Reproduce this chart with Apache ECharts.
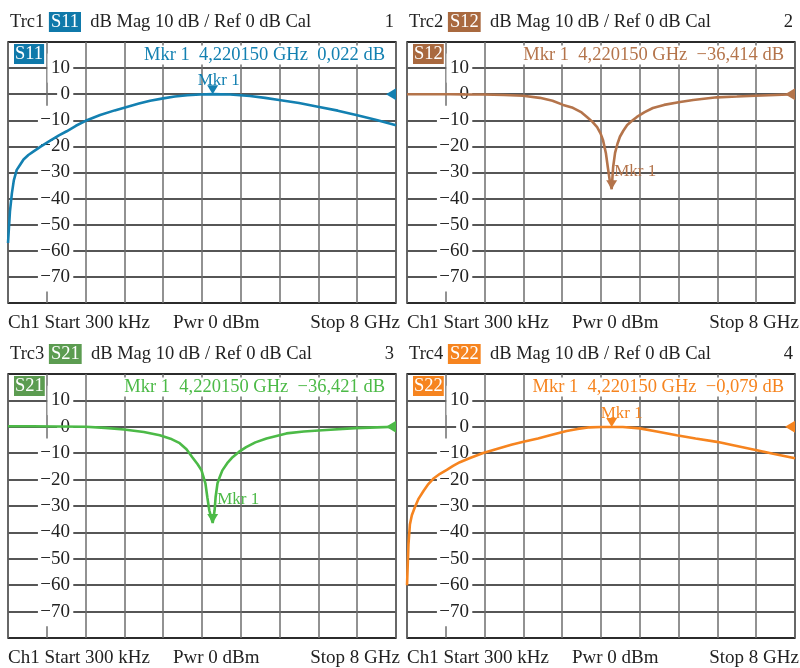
<!DOCTYPE html>
<html>
<head>
<meta charset="utf-8">
<script src="https://cdn.jsdelivr.net/npm/echarts@6/dist/echarts.min.js"></script>
<style>html,body{margin:0;padding:0;background:#fff}#c{width:800px;height:668px}</style>
</head>
<body>
<div id="c"></div>
<script>
// ---- data (frequency in GHz, magnitude in dB) ----
const freqS11 = [0.0003, 0.04, 0.08, 0.12, 0.18, 0.25, 0.32, 0.42, 0.52, 0.68, 0.87, 1.05, 1.21, 1.40, 1.60, 1.90, 2.20, 2.45, 2.70, 2.93, 3.20, 3.44, 3.70, 3.96, 4.22015, 4.58, 4.99, 5.30, 5.59, 6.00, 6.39, 6.80, 7.18, 7.60, 8.0];
const magS11  = [-57, -45, -38, -33, -29, -27, -25, -23.3, -22, -20, -17.8, -15.8, -14.2, -12.1, -10.2, -8.0, -6.2, -4.9, -3.6, -2.5, -1.6, -0.9, -0.4, -0.1, 0.022, -0.1, -0.7, -1.4, -2.2, -3.4, -4.8, -6.3, -8, -9.9, -11.9];

const freqS12 = [0.0003, 0.5, 0.89, 1.2, 1.57, 2.0, 2.39, 2.74, 3.0, 3.22, 3.42, 3.60, 3.71, 3.82, 3.92, 3.99, 4.04, 4.10, 4.14, 4.18, 4.22015, 4.25, 4.29, 4.34, 4.39, 4.46, 4.54, 4.64, 4.74, 4.90, 5.07, 5.30, 5.63, 5.90, 6.39, 6.80, 7.18, 7.60, 8.0];
const magS12  = [0, 0, 0, -0.05, -0.1, -0.3, -0.6, -1.4, -2.5, -4.1, -5.2, -7.0, -8.7, -10.5, -12.6, -15, -17.5, -22.5, -27.9, -33, -36.414, -28, -22.5, -19, -16.3, -14, -11.8, -10.2, -8.7, -6.9, -5.3, -4.1, -3.0, -2.2, -1.2, -0.9, -0.6, -0.3, 0];

const freqS21 = [0.0003, 0.5, 1.0, 1.6, 2.0, 2.39, 2.80, 3.13, 3.35, 3.54, 3.68, 3.80, 3.91, 3.99, 4.07, 4.11, 4.15, 4.22015, 4.26, 4.28, 4.32, 4.37, 4.42, 4.52, 4.63, 4.76, 4.91, 5.10, 5.33, 5.74, 6.10, 6.48, 7.16, 7.60, 8.0];
const magS21  = [0.2, 0.2, 0.1, 0, -0.4, -1, -2.0, -3.2, -4.5, -6.2, -8.5, -11.5, -14.2, -16.5, -21.4, -26.7, -31.6, -36.421, -31.6, -26.7, -21.4, -18.8, -16.5, -13.8, -11.5, -9.5, -7.7, -5.9, -4.4, -2.5, -1.8, -1.3, -0.5, -0.2, 0];

const freqS22 = [0.0003, 0.03, 0.06, 0.10, 0.16, 0.24, 0.34, 0.44, 0.54, 0.68, 0.82, 0.95, 1.09, 1.30, 1.57, 1.92, 2.15, 2.40, 2.70, 2.95, 3.29, 3.52, 3.77, 4.0, 4.22015, 4.45, 4.80, 5.15, 5.56, 5.95, 6.39, 6.75, 7.14, 7.55, 8.0];
const magS22  = [-60, -44.5, -37, -33.5, -30.6, -27.2, -24.3, -21.7, -19.7, -17.8, -16.3, -14.8, -13.4, -11.8, -9.9, -8, -6.8, -5.7, -4.4, -3.2, -1.6, -0.8, -0.2, -0.05, -0.079, -0.1, -0.6, -1.8, -3.2, -4.4, -5.7, -7.1, -8.6, -10.2, -11.9];

const markerFreq = 4.220150;
const markerValues = [0.022, -36.414, -36.421, -0.079];
const markerTexts = ['0,022 dB', '\u221236,414 dB', '\u221236,421 dB', '\u22120,079 dB'];
const traceNames = ['S11', 'S12', 'S21', 'S22'];
const traceIds = ['Trc1', 'Trc2', 'Trc3', 'Trc4'];
const windowNums = ['1', '2', '3', '4'];
const yTickMin = -80, yTickMax = 20, yTickStep = 10;
const xMin = 0, xMax = 8, xStep = 0.8;
const headerText = 'dB Mag 10 dB / Ref 0 dB Cal';
const footerStart = 'Ch1 Start 300 kHz';
const footerPwr = 'Pwr 0 dBm';
const footerStop = 'Stop 8 GHz';

// ---- styling / layout ----
const FONT = "'Liberation Serif', 'DejaVu Serif', serif";
const lineColors = ['#1380b1', '#b4744b', '#4cba47', '#f6841f'];
const tagColors  = ['#0f79aa', '#a9693f', '#5c9c51', '#f6841f'];
const panels = [
  {left: 8,   top: 42,  width: 388, height: 261},
  {left: 407, top: 42,  width: 388, height: 261},
  {left: 8,   top: 374, width: 388, height: 264},
  {left: 407, top: 374, width: 388, height: 264}
];
const LABEL_RIGHT = 62;
const mkrLabel = [
  {position: 'top', offset: [6, 4]},
  {position: 'right', offset: [-3, -13]},
  {position: 'right', offset: [-1, -19]},
  {position: 'top', offset: [10, 4]}
];
const series = [freqS11, freqS12, freqS21, freqS22].map((f, i) => {
  const m = [magS11, magS12, magS21, magS22][i];
  return f.map((x, k) => [x, m[k]]);
});

const tickText = v => (v < 0 ? '\u2212' + Math.abs(v) : String(v));

const gridAxes = panels.map((p, i) => ({gridIndex: i, type: 'value', position: 'left', min: yTickMin, max: yTickMax, interval: yTickStep,
  z: 0, axisLine: {show: false}, axisTick: {show: false}, axisLabel: {show: false},
  splitLine: {show: true, lineStyle: {color: '#1e1e1e', width: 1.5}}}));
const labelAxes = panels.map((p, i) => ({gridIndex: i, type: 'value', position: 'left', offset: 0, min: yTickMin, max: yTickMax, interval: yTickStep,
  zlevel: 1, z: 3, axisLine: {show: false}, axisTick: {show: false}, splitLine: {show: false},
  axisLabel: {inside: true, margin: LABEL_RIGHT, align: 'right', formatter: tickText,
    showMinLabel: false, showMaxLabel: false, hideOverlap: false,
    fontFamily: FONT, fontSize: 19, color: '#222'}}));

const option = {
  animation: false,
  backgroundColor: '#fff',
  grid: panels.map(p => ({left: p.left, top: p.top, width: p.width, height: p.height,
    show: true, borderColor: '#1e1e1e', borderWidth: 1.5, containLabel: false})),
  xAxis: panels.map((p, i) => ({gridIndex: i, type: 'value', min: xMin, max: xMax, interval: xStep,
    z: 0, axisLine: {show: false}, axisTick: {show: false}, axisLabel: {show: false},
    splitLine: {show: true, lineStyle: {color: '#6e6e6e', width: 1.5}}})),
  yAxis: gridAxes.concat(labelAxes),
  series: series.map((d, i) => ({
    type: 'line', xAxisIndex: i, yAxisIndex: i, data: d, showSymbol: false, smooth: false,
    lineStyle: {color: lineColors[i], width: 2.6}, itemStyle: {color: lineColors[i]},
    zlevel: 1, z: 5,
    markPoint: {
      silent: true, animation: false,
      data: [
        {coord: [markerFreq, markerValues[i]], symbol: 'triangle', symbolSize: [11, 9], symbolRotate: 180,
          symbolOffset: [0, -4.5], itemStyle: {color: lineColors[i]},
          label: {show: true, formatter: 'Mkr 1', position: mkrLabel[i].position, offset: mkrLabel[i].offset,
            distance: 0, color: lineColors[i], fontFamily: FONT, fontSize: 17}},
        {coord: [xMax, 0], symbol: 'triangle', symbolSize: [12, 10], symbolRotate: 90,
          symbolOffset: [-5, 0], itemStyle: {color: lineColors[i]}, label: {show: false}}
      ]
    }
  })),
  graphic: []
};

panels.forEach((p, i) => {
  const right = p.left + p.width;
  const bottom = p.top + p.height;
  option.graphic.push({type: 'text', x: p.left + 2, y: p.top - 20, zlevel: 1, z: 10,
    style: {text: traceIds[i] + ' {t|' + traceNames[i] + '}  ' + headerText,
      rich: {t: {backgroundColor: tagColors[i], fill: '#fff', color: '#fff', padding: [1, 2, 0, 2],
        fontFamily: FONT, fontSize: 18.5}},
      fontFamily: FONT, fontSize: 18.5, fill: '#222', verticalAlign: 'middle', align: 'left'}});
  option.graphic.push({type: 'text', x: right - 2, y: p.top - 20, zlevel: 1, z: 10,
    style: {text: windowNums[i], fontFamily: FONT, fontSize: 18.5, fill: '#222', verticalAlign: 'middle', align: 'right'}});
  option.graphic.push({type: 'text', x: p.left + 6, y: p.top + 12, zlevel: 1, z: 10,
    style: {text: traceNames[i], fontFamily: FONT, fontSize: 18.5, fill: '#fff',
      backgroundColor: tagColors[i], padding: [1, 1, 0, 1], verticalAlign: 'middle', align: 'left'}});
  option.graphic.push({type: 'text', x: right - 9, y: p.top + 13, zlevel: 1, z: 10,
    style: {text: 'Mkr 1  4,220150 GHz  ' + markerTexts[i], fontFamily: FONT, fontSize: 18.5, fill: lineColors[i],
      backgroundColor: '#fff', padding: [0, 2], verticalAlign: 'middle', align: 'right'}});
  option.graphic.push({type: 'text', x: p.left, y: bottom + 20, zlevel: 1, z: 10,
    style: {text: footerStart, fontFamily: FONT, fontSize: 19, fill: '#222', verticalAlign: 'middle', align: 'left'}});
  option.graphic.push({type: 'text', x: p.left + 165, y: bottom + 20, zlevel: 1, z: 10,
    style: {text: footerPwr, fontFamily: FONT, fontSize: 19, fill: '#222', verticalAlign: 'middle', align: 'left'}});
  option.graphic.push({type: 'text', x: right + 4, y: bottom + 20, zlevel: 1, z: 10,
    style: {text: footerStop, fontFamily: FONT, fontSize: 19, fill: '#222', verticalAlign: 'middle', align: 'right'}});

  // white backing boxes behind the y tick labels (hide grid lines under the labels)
  const step = p.height * yTickStep / (yTickMax - yTickMin);
  for (let v = yTickMax - yTickStep; v > yTickMin; v -= yTickStep) {
    const cy = p.top + (yTickMax - v) / (yTickMax - yTickMin) * p.height;
    const w = tickText(v).length * 9.6 + 6;
    option.graphic.push({type: 'text', zlevel: 1, z: 0, silent: true,
      x: p.left + LABEL_RIGHT + 3 - w / 2, y: cy,
      style: {text: ' ', fontSize: 2, backgroundColor: '#fff',
        padding: [step / 2 + 0.5, w / 2], align: 'center', verticalAlign: 'middle'}});
  }
});

const chart = echarts.init(document.getElementById('c'), null, {renderer: 'canvas'});
chart.setOption(option);
</script>
</body>
</html>
